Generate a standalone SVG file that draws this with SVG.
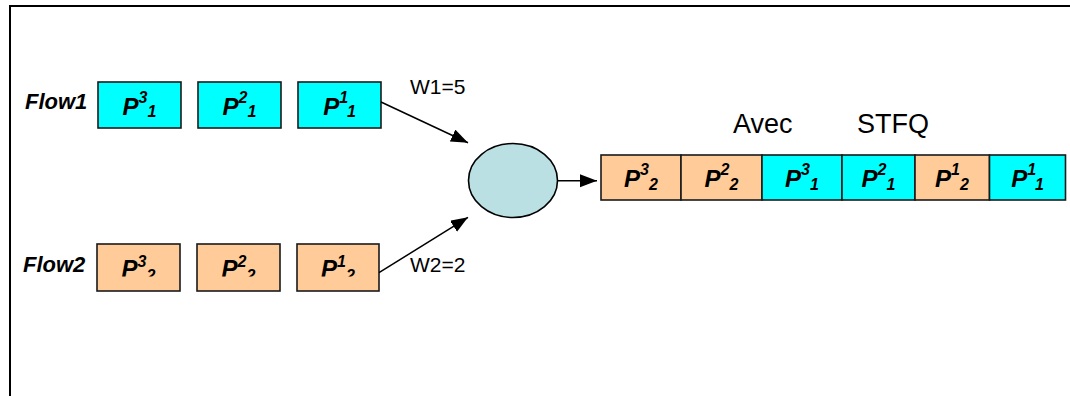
<svg xmlns="http://www.w3.org/2000/svg" width="1070" height="396" viewBox="0 0 1070 396">
  <style>
    .frame { fill: none; stroke: #000; stroke-width: 2; }
    .pkt { stroke: #1a1a1a; stroke-width: 1.6; }
    .f1 { fill: #00FFFF; }
    .f2 { fill: #FFCC99; }
    .lbl { font-family: "Liberation Sans", Arial, sans-serif; font-weight: bold; font-style: italic; fill: #000; }
    .flow { font-size: 22px; }
    .p { font-size: 24px; text-anchor: middle; }
    .pq { font-size: 24px; text-anchor: middle; }
    .s { font-size: 16px; }
    .plain { font-family: "Liberation Sans", Arial, sans-serif; fill: #000; }
    .conn { stroke: #000; stroke-width: 1.5; fill: none; }
  </style>
  <defs>
    <marker id="arrow" markerUnits="userSpaceOnUse" markerWidth="18" markerHeight="14" refX="17" refY="6.5" orient="auto">
      <path d="M0,0 L17,6.5 L0,13 Z" fill="#000"/>
    </marker>
    <!-- subscripts in the second flow are cut at the baseline -->
    <clipPath id="cut2"><rect x="0" y="0" width="400" height="276.5"/></clipPath>
  </defs>

  <rect width="1070" height="396" fill="#fff"/>
  <!-- open frame: top and left edges -->
  <path class="frame" d="M10,396 L10,6 L1070,6"/>

  <!-- Flow 1 -->
  <text class="lbl flow" x="25" y="109">Flow1</text>
  <g id="f1p3">
    <rect class="pkt f1" x="98" y="82" width="83" height="46"/>
    <text class="lbl p" x="139.5" y="115">P<tspan class="s" dy="-12">3</tspan><tspan class="s" dy="14">1</tspan></text>
  </g>
  <g id="f1p2">
    <rect class="pkt f1" x="198" y="82" width="83" height="46"/>
    <text class="lbl p" x="239.5" y="115">P<tspan class="s" dy="-12">2</tspan><tspan class="s" dy="14">1</tspan></text>
  </g>
  <g id="f1p1">
    <rect class="pkt f1" x="298" y="82" width="83" height="46"/>
    <text class="lbl p" x="339.5" y="115">P<tspan class="s" dy="-12">1</tspan><tspan class="s" dy="14">1</tspan></text>
  </g>

  <!-- Flow 2 -->
  <text class="lbl flow" x="23" y="272">Flow2</text>
  <g id="f2p3">
    <rect class="pkt f2" x="97" y="244" width="83" height="47"/>
    <text class="lbl p" x="138.5" y="277" clip-path="url(#cut2)">P<tspan class="s" dy="-10">3</tspan><tspan class="s" dy="14">2</tspan></text>
  </g>
  <g id="f2p2">
    <rect class="pkt f2" x="197" y="244" width="83" height="47"/>
    <text class="lbl p" x="238.5" y="277" clip-path="url(#cut2)">P<tspan class="s" dy="-10">2</tspan><tspan class="s" dy="14">2</tspan></text>
  </g>
  <g id="f2p1">
    <rect class="pkt f2" x="297" y="244" width="82" height="47"/>
    <text class="lbl p" x="338" y="277" clip-path="url(#cut2)">P<tspan class="s" dy="-10">1</tspan><tspan class="s" dy="14">2</tspan></text>
  </g>

  <!-- scheduler -->
  <g id="scheduler">
    <ellipse cx="513" cy="180.5" rx="44.5" ry="37" fill="#BBE0E3" stroke="#000" stroke-width="1.6"/>
  </g>

  <!-- connectors -->
  <g id="connectors">
    <line class="conn" x1="381" y1="102" x2="468" y2="142.7" marker-end="url(#arrow)"/>
    <line class="conn" x1="379" y1="272.7" x2="468" y2="217.3" marker-end="url(#arrow)"/>
    <line class="conn" x1="558" y1="180.7" x2="597" y2="180.7" marker-end="url(#arrow)"/>
  </g>
  <text class="plain" x="410" y="94" font-size="21">W1=5</text>
  <text class="plain" x="410" y="272" font-size="21">W2=2</text>

  <!-- output order -->
  <text class="plain" x="733" y="133" font-size="27">Avec</text>
  <text class="plain" x="857" y="133" font-size="27">STFQ</text>
  <g id="q1">
    <rect class="pkt f2" x="601" y="155" width="80" height="45"/>
    <text class="lbl pq" x="641" y="187">P<tspan class="s" dy="-12">3</tspan><tspan class="s" dy="15">2</tspan></text>
  </g>
  <g id="q2">
    <rect class="pkt f2" x="681" y="155" width="81" height="45"/>
    <text class="lbl pq" x="721.5" y="187">P<tspan class="s" dy="-12">2</tspan><tspan class="s" dy="15">2</tspan></text>
  </g>
  <g id="q3">
    <rect class="pkt f1" x="762" y="155" width="80" height="45"/>
    <text class="lbl pq" x="802" y="187">P<tspan class="s" dy="-12">3</tspan><tspan class="s" dy="15">1</tspan></text>
  </g>
  <g id="q4">
    <rect class="pkt f1" x="842" y="155" width="73" height="45"/>
    <text class="lbl pq" x="878.5" y="187">P<tspan class="s" dy="-12">2</tspan><tspan class="s" dy="15">1</tspan></text>
  </g>
  <g id="q5">
    <rect class="pkt f2" x="915" y="155" width="74.5" height="45"/>
    <text class="lbl pq" x="952" y="187">P<tspan class="s" dy="-12">1</tspan><tspan class="s" dy="15">2</tspan></text>
  </g>
  <g id="q6">
    <rect class="pkt f1" x="989.5" y="155" width="76" height="45"/>
    <text class="lbl pq" x="1027.5" y="187">P<tspan class="s" dy="-12">1</tspan><tspan class="s" dy="15">1</tspan></text>
  </g>
</svg>
